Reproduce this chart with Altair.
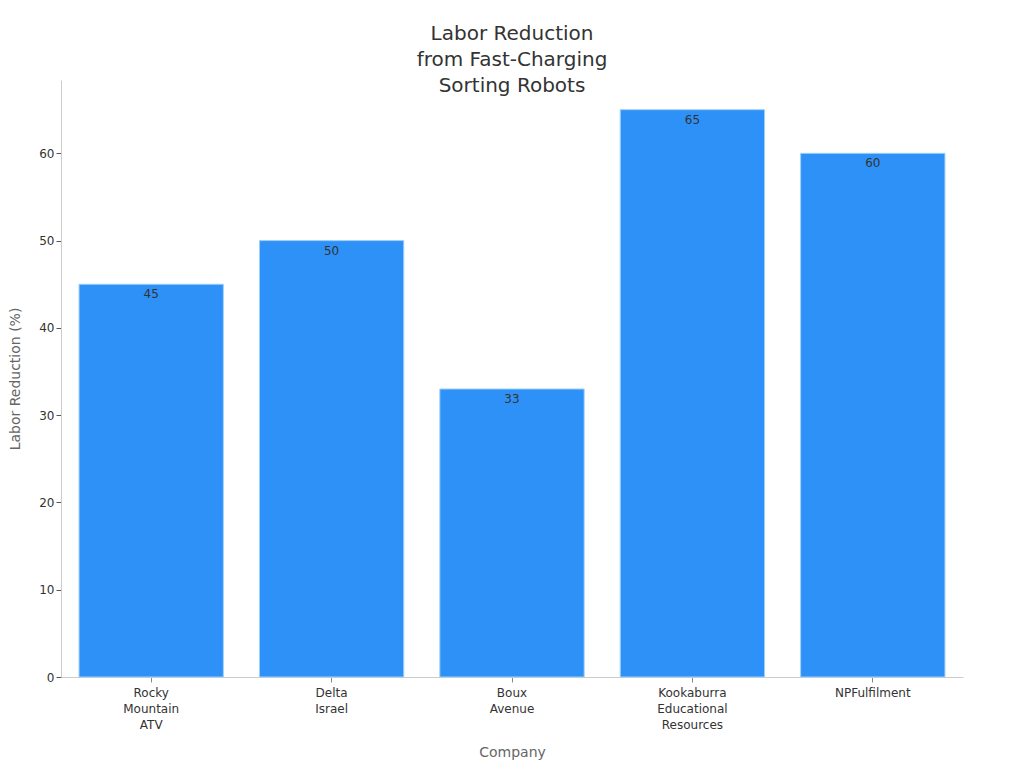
import altair as alt
import pandas as pd

companies = ["Rocky Mountain ATV", "Delta Israel", "Boux Avenue",
             "Kookaburra Educational Resources", "NPFulfilment"]
labels = [["Rocky", "Mountain", "ATV"], ["Delta", "Israel"], ["Boux", "Avenue"],
          ["Kookaburra", "Educational", "Resources"], ["NPFulfilment"]]
values = [45, 50, 33, 65, 60]

df = pd.DataFrame({"Company": companies, "Reduction": values})

label_expr = "{" + ", ".join(
    f"'{c}': {labels[i]!r}" for i, c in enumerate(companies)
) + "}[datum.value]"

FONT = "DejaVu Sans"

base = alt.Chart(df).encode(
    x=alt.X("Company:N", sort=companies,
            scale=alt.Scale(paddingInner=0.2, paddingOuter=0.1),
            axis=alt.Axis(title="Company", labelAngle=0, labelExpr=label_expr,
                          labelFont=FONT, labelFontSize=12, labelColor="#333333",
                          titleFont=FONT, titleFontSize=14, titleColor="#666666",
                          titleFontWeight="normal", titlePadding=15,
                          domainColor="#cccccc", tickColor="#888888",
                          labelPadding=5, labelLineHeight=16)),
    y=alt.Y("Reduction:Q",
            scale=alt.Scale(domain=[0, 68.4], nice=False),
            axis=alt.Axis(title="Labor Reduction (%)", values=[0, 10, 20, 30, 40, 50, 60],
                          grid=False, labelFont=FONT, labelFontSize=12,
                          labelColor="#333333", titleFont=FONT, titleFontSize=14,
                          titleColor="#666666", titleFontWeight="normal",
                          titlePadding=16, domainColor="#cccccc", tickColor="#555555")),
)

bars = base.mark_bar(color="#2E91F7", stroke="#9FD0FA", strokeWidth=1)
text = base.mark_text(baseline="top", dy=5, font=FONT, fontSize=12,
                      color="#333333").encode(text="Reduction:Q")

chart = (bars + text).properties(
    width=902, height=597,
    autosize=alt.AutoSizeParams(type="none"),
    padding={"left": 53, "top": 72, "right": 53, "bottom": 88},
    title=alt.TitleParams(
        ["Labor Reduction", "from Fast-Charging", "Sorting Robots"],
        font=FONT, fontSize=20, fontWeight="normal", color="#333333",
        anchor="middle", lineHeight=26, offset=-16,
    ),
).configure_view(stroke=None)

chart.save("out.html", embed_options={"renderer": "svg", "actions": False})
